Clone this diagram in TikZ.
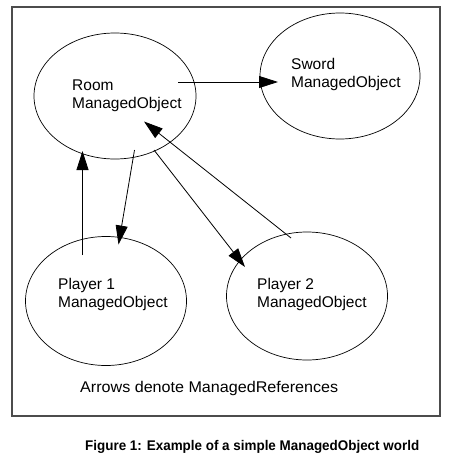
\documentclass[tikz,border=0pt]{standalone}
\usepackage{fontspec}
\usepackage{graphicx}
\setmainfont{Liberation Sans}
\usetikzlibrary{shapes.geometric,arrows.meta}
\begin{document}
\begin{tikzpicture}[x=1pt,y=-1pt,
  obj/.style={draw=black,line width=0.7pt,ellipse,inner sep=0pt},
  lbl/.style={font=\fontsize{15.5}{18}\selectfont,align=left,inner sep=0pt,anchor=base west},
  ref/.style={line width=0.8pt,-{Triangle[length=19pt,width=12pt]}}]
\useasboundingbox (0,0) rectangle (462,460);
\fill[white] (0,0) rectangle (462,460);
\draw[line width=1.5pt,black!70] (12,7) rectangle (440,416);
% objects
\node[obj,minimum width=162pt,minimum height=126pt] (room) at (115,96) {};
\node[obj,minimum width=160pt,minimum height=126pt] (sword) at (340,76) {};
\node[obj,minimum width=161pt,minimum height=129pt] (p1) at (106,301) {};
\node[obj,minimum width=161pt,minimum height=128pt] (p2) at (307,296) {};
% labels (base = baseline of last line)
\node[lbl] (roomt) at (72,108.7) {Room\\ManagedObject};
\node[lbl] (swordt) at (291,87) {Sword\\ManagedObject};
\node[lbl] (p1t) at (58,307) {Player 1\\ManagedObject};
\node[lbl] (p2t) at (257,307) {Player 2\\ManagedObject};
\node[lbl] (note) at (80,392.5) {\resizebox{258pt}{\height}{Arrows denote ManagedReferences}};
\node[font=\fontsize{14}{16}\selectfont\bfseries,inner sep=0pt,anchor=base west] (cap) at (85,450) {\resizebox{334pt}{\height}{Figure 1: Example of a simple ManagedObject world}};
% arrow endpoints
\coordinate (rs1) at (178,82);  \coordinate (rs2) at (278,82);
\coordinate (rp1a) at (134.5,150); \coordinate (rp1b) at (118.5,244.5);
\coordinate (p1ra) at (82.5,255); \coordinate (p1rb) at (82.5,151);
\coordinate (rp2a) at (154,150); \coordinate (rp2b) at (245,267);
\coordinate (p2ra) at (291,238); \coordinate (p2rb) at (144,121.5);
\draw[ref] (rs1) -- (rs2);
\draw[ref] (rp1a) -- (rp1b);
\draw[ref] (p1ra) -- (p1rb);
\draw[ref] (rp2a) -- (rp2b);
\draw[ref] (p2ra) -- (p2rb);
\end{tikzpicture}
\end{document}
